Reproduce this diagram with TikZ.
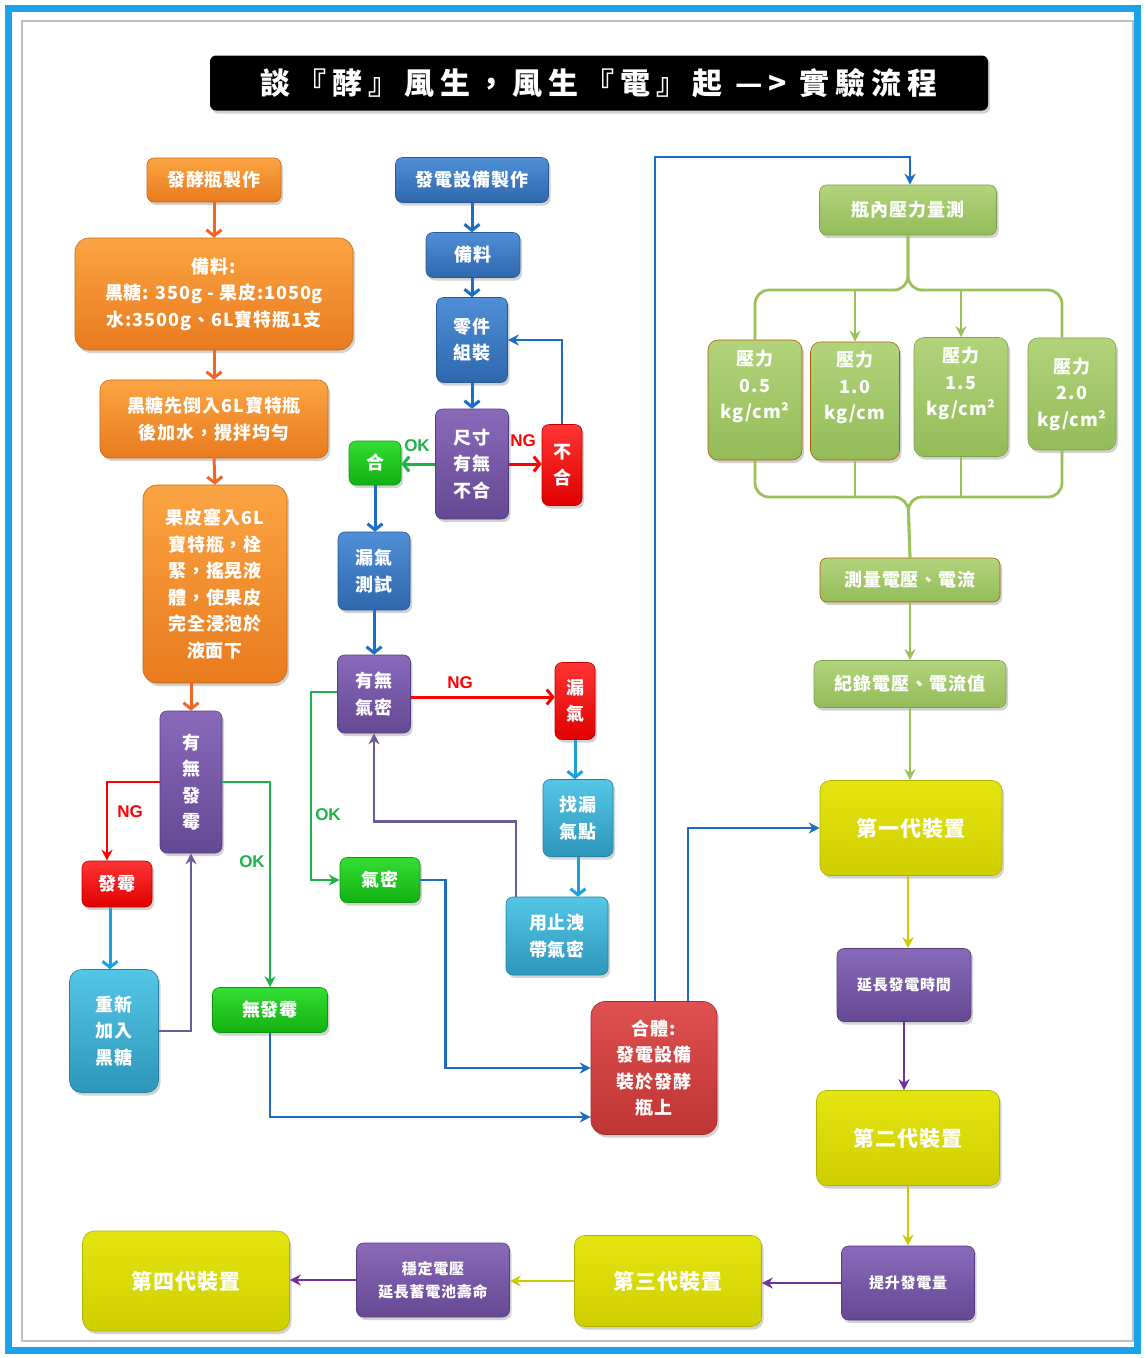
\documentclass[tikz,border=0pt]{standalone}
\usepackage{fontspec}
\newfontfamily\cjk{Noto Sans CJK TC}[LetterSpace=5]
\newfontfamily\lat{Liberation Sans}
\usetikzlibrary{arrows.meta,shadows,calc}
\definecolor{frameblue}{HTML}{1AA3E8}
\definecolor{orA}{HTML}{FBA443}\definecolor{orB}{HTML}{E97B1E}\definecolor{orL}{HTML}{F26522}
\definecolor{buA}{HTML}{4F8FD6}\definecolor{buB}{HTML}{2F67AE}\definecolor{buL}{HTML}{1C6DC4}
\definecolor{puA}{HTML}{8A69BA}\definecolor{puB}{HTML}{654893}\definecolor{puL}{HTML}{6E5A9A}\definecolor{pvL}{HTML}{7030A0}
\definecolor{reA}{HTML}{FF3434}\definecolor{reB}{HTML}{E00000}\definecolor{reL}{HTML}{FF0000}
\definecolor{grA}{HTML}{33DD33}\definecolor{grB}{HTML}{12B012}\definecolor{grL}{HTML}{1DB34A}
\definecolor{cyA}{HTML}{55C6E6}\definecolor{cyB}{HTML}{2D96BA}\definecolor{cyL}{HTML}{1BA1E2}
\definecolor{rdA}{HTML}{E05050}\definecolor{rdB}{HTML}{BF3434}
\definecolor{lgA}{HTML}{B2D47C}\definecolor{lgB}{HTML}{93BC58}\definecolor{lgL}{HTML}{9BC25A}
\definecolor{yeA}{HTML}{E4E410}\definecolor{yeB}{HTML}{CFCF00}\definecolor{yeL}{HTML}{CCCC00}
\tikzset{
  box/.style={rounded corners=7pt, align=center, text=white, inner sep=0pt,
    font=\cjk\bfseries\fontsize{18}{26.5}\selectfont,
    drop shadow={shadow xshift=2pt, shadow yshift=-3pt, opacity=0.35}},
  cc/.style 2 args={top color=#1, bottom color=#2, draw=#2!85!black, line width=0.6pt},
  orb/.style={box, cc={orA}{orB}},
  bub/.style={box, cc={buA}{buB}},
  pub/.style={box, cc={puA}{puB}},
  reb/.style={box, cc={reA}{reB}},
  grb/.style={box, cc={grA}{grB}},
  cyb/.style={box, cc={cyA}{cyB}},
  rdb/.style={box, cc={rdA}{rdB}},
  lgb/.style={box, cc={lgA}{lgB}},
  yeb/.style={box, cc={yeA}{yeB}, font=\cjk\bfseries\fontsize{21}{25}\selectfont},
  sm/.style={font=\cjk\bfseries\fontsize{15}{23}\selectfont},
  barb/.style={line width=3pt, -{Straight Barb[length=6pt,width=15pt]}},
  tri/.style={line width=2.5pt, -{Stealth[length=11pt,width=11pt]}},
  ln/.style={line width=2.8pt},
  lab/.style={font=\lat\bfseries\fontsize{17}{20}\selectfont, inner sep=0pt},
}
\begin{document}
\begin{tikzpicture}[x=1pt,y=-1pt]
\useasboundingbox (0,0) rectangle (1145,1358);
\fill[white] (0,0) rectangle (1145,1358);
\draw[frameblue, line width=7pt] (8,8) rectangle (1137,1350);
\draw[black!25, line width=1.5pt] (22,21) rectangle (1133,1341);
% title
\node[fill=black, rounded corners=6pt, minimum width=778pt, minimum height=55pt, text=white,
  drop shadow={shadow xshift=2pt, shadow yshift=-3pt, opacity=0.35},
  font=\cjk\bfseries\fontsize{30}{32}\selectfont] (title) at (599,83)
  {\addfontfeature{LetterSpace=20}談『酵』風生，風生『電』起 —> 實驗流程};
% left column
\node[orb, minimum width=134pt, minimum height=44pt] (n1) at (214,180) {發酵瓶製作};
\node[orb, rounded corners=14pt, minimum width=278pt, minimum height=112pt] (n2) at (214,294) {備料:\\黑糖: 350g - 果皮:1050g\\水:3500g、6L寶特瓶1支};
\node[orb, rounded corners=10pt, minimum width=228pt, minimum height=78pt] (n3) at (214,419) {黑糖先倒入6L寶特瓶\\後加水，攪拌均勻};
\node[orb, rounded corners=14pt, minimum width=144pt, minimum height=198pt] (n4) at (215,584) {果皮塞入6L\\寶特瓶，栓\\緊，搖晃液\\體，使果皮\\完全浸泡於\\液面下};
\node[pub, minimum width=62pt, minimum height=142pt] (n5) at (191,782) {有\\無\\發\\霉};
\node[reb, minimum width=70pt, minimum height=46pt] (n6) at (117,884) {發霉};
\node[cyb, rounded corners=12pt, minimum width=89pt, minimum height=123pt] (n7) at (114,1031) {重新\\加入\\黑糖};
\node[grb, minimum width=115pt, minimum height=45pt] (n8) at (270,1010) {無發霉};
% middle column
\node[bub, minimum width=153pt, minimum height=45pt] (m1) at (472,180) {發電設備製作};
\node[bub, minimum width=94pt, minimum height=45pt] (m2) at (473,255) {備料};
\node[bub, minimum width=71pt, minimum height=85pt] (m3) at (472,340) {零件\\組裝};
\node[pub, minimum width=73pt, minimum height=110pt] (m4) at (472,464) {尺寸\\有無\\不合};
\node[reb, minimum width=40pt, minimum height=81pt] (m5) at (562,465) {不\\合};
\node[grb, minimum width=52pt, minimum height=44pt] (m6) at (375,463) {合};
\node[bub, minimum width=72pt, minimum height=78pt] (m7) at (374,571) {漏氣\\測試};
\node[pub, minimum width=73pt, minimum height=78pt] (m8) at (374,694) {有無\\氣密};
\node[reb, minimum width=40pt, minimum height=77pt] (m9) at (575,701) {漏\\氣};
\node[cyb, minimum width=70pt, minimum height=77pt] (m10) at (578,818) {找漏\\氣點};
\node[cyb, minimum width=102pt, minimum height=78pt] (m11) at (557,936) {用止洩\\帶氣密};
\node[grb, minimum width=80pt, minimum height=45pt] (m12) at (380,880) {氣密};
\node[rdb, rounded corners=14pt, minimum width=126pt, minimum height=133pt] (m13) at (654,1068) {合體:\\發電設備\\裝於發酵\\瓶上};
% right column
\node[lgb, minimum width=177pt, minimum height=50pt] (r1) at (908,210) {瓶內壓力量測};
\node[lgb, rounded corners=10pt, draw=orange!70!black, minimum width=94pt, minimum height=120pt] (r2) at (755,400) {壓力\\0.5\\kg/cm²\\[4pt]};
\node[lgb, rounded corners=10pt, draw=orange!70!black, minimum width=89pt, minimum height=118pt] (r3) at (855,401) {壓力\\1.0\\kg/cm\\[4pt]};
\node[lgb, rounded corners=10pt, minimum width=94pt, minimum height=119pt] (r4) at (961,397) {壓力\\1.5\\kg/cm²\\[4pt]};
\node[lgb, rounded corners=10pt, minimum width=88pt, minimum height=112pt] (r5) at (1072,394) {壓力\\2.0\\kg/cm²};
\node[lgb, draw=orange!70!black, minimum width=180pt, minimum height=44pt] (r6) at (910,580) {測量電壓、電流};
\node[lgb, minimum width=192pt, minimum height=47pt] (r7) at (910,684) {紀錄電壓、電流值};
\node[yeb, rounded corners=10pt, minimum width=182pt, minimum height=95pt] (r8) at (911,828) {第一代裝置};
\node[pub, sm, minimum width=134pt, minimum height=73pt] (r9) at (904,985) {延長發電時間};
\node[yeb, rounded corners=10pt, minimum width=183pt, minimum height=95pt] (r10) at (908,1138) {第二代裝置};
\node[pub, sm, minimum width=133pt, minimum height=74pt] (r11) at (908,1283) {提升發電量};
\node[yeb, rounded corners=10pt, minimum width=187pt, minimum height=91pt] (r12) at (668,1281) {第三代裝置};
\node[pub, sm, minimum width=153pt, minimum height=74pt] (r13) at (433,1280) {穩定電壓\\延長蓄電池壽命};
\node[yeb, rounded corners=12pt, minimum width=207pt, minimum height=100pt] (r14) at (186,1281) {第四代裝置};
% left connectors
\draw[barb, orL] (n1.south) -- (n2.north);
\draw[barb, orL] (n2.south) -- (n3.north);
\draw[barb, orL] (n3.south) -- (n4.north);
\draw[barb, orL] (n4.south -| n5.north) -- (n5.north);
\draw[tri, reL] (n5.west) -| ([xshift=-10pt]n6.north);
\draw[tri, grL] (n5.east) -| (n8.north);
\draw[barb, cyL] ([xshift=-7pt]n6.south) -- ([xshift=-7pt]n6.south |- n7.north);
\draw[tri, puL] (n7.east) -| (n5.south);
\draw[tri, buL] (n8.south) |- ([yshift=-49pt]m13.west);
\node[lab, text=reL] (lng1) at (130,812) {NG};
\node[lab, text=grL] (lok1) at (252,862) {OK};
% middle connectors
\draw[barb, buL] (m1.south) -- (m1.south |- m2.north);
\draw[barb, buL] (m2.south -| m3.north) -- (m3.north);
\draw[barb, buL] (m3.south) -- (m4.north);
\draw[barb, reL] (m4.east) -- (m4.east -| m5.west);
\draw[tri, buL] (m5.north) |- (m3.east);
\draw[barb, grL] (m4.west) -- (m4.west -| m6.east);
\draw[barb, buL] (m6.south) -- (m6.south |- m7.north);
\draw[barb, buL] (m7.south) -- (m7.south |- m8.north);
\draw[barb, reL] ([yshift=-3pt]m8.east) -- ([yshift=-3pt]m8.east -| m9.west);
\draw[tri, grL] ([yshift=2pt]m8.west) -- ++(-26,0) |- (m12.west);
\draw[barb, cyL] (m9.south) -- (m9.south |- m10.north);
\draw[barb, cyL] (m10.south) -- (m10.south |- m11.north);
\draw[tri, puL] ([xshift=-41pt]m11.north) -- ++(0,-75) -| (m8.south);
\draw[tri, buL] (m12.east) -- ++(25,0) |- (m13.west);
\draw[tri, buL] ([xshift=1pt]m13.north) -- ++(0,-844) -| ([xshift=2pt]r1.north);
\draw[tri, buL] ([xshift=34pt]m13.north) |- (r8.west);
\node[lab, text=grL] (lok2) at (417,446) {OK};
\node[lab, text=reL] (lng2) at (523,441) {NG};
\node[lab, text=reL] (lng3) at (460,683) {NG};
\node[lab, text=grL] (lok3) at (328,815) {OK};
% right connectors
\coordinate (bt) at (908,290);
\coordinate (bb) at (908,497);
\draw[ln, lgL, rounded corners=14pt] (r1.south) -- (bt) -| (r2.north);
\draw[ln, lgL, rounded corners=14pt] (r1.south) -- (bt) -| ([xshift=-10pt]r5.north);
\draw[tri, lgL] (bt -| r3.north) -- (r3.north);
\draw[tri, lgL] (bt -| r4.north) -- (r4.north);
\draw[ln, lgL, rounded corners=14pt] (r2.south) |- (bb) -- (r6.north);
\draw[ln, lgL, rounded corners=14pt] ([xshift=-10pt]r5.south) |- (bb) -- (r6.north);
\draw[ln, lgL] (r3.south) -- (r3.south |- bb);
\draw[ln, lgL] (r4.south) -- (r4.south |- bb);
\draw[tri, lgL] (r6.south) -- (r7.north);
\draw[tri, lgL] (r7.south) -- (r7.south |- r8.north);
\draw[tri, yeL] ([xshift=-3pt]r8.south) -- ([xshift=-3pt]r8.south |- r9.north);
\draw[tri, pvL] (r9.south) -- (r9.south |- r10.north);
\draw[tri, yeL] (r10.south) -- (r11.north);
\draw[tri, pvL] (r11.west) -- (r11.west -| r12.east);
\draw[tri, yeL] (r12.west) -- (r12.west -| r13.east);
\draw[tri, pvL] (r13.west) -- (r13.west -| r14.east);
\end{tikzpicture}
\end{document}
